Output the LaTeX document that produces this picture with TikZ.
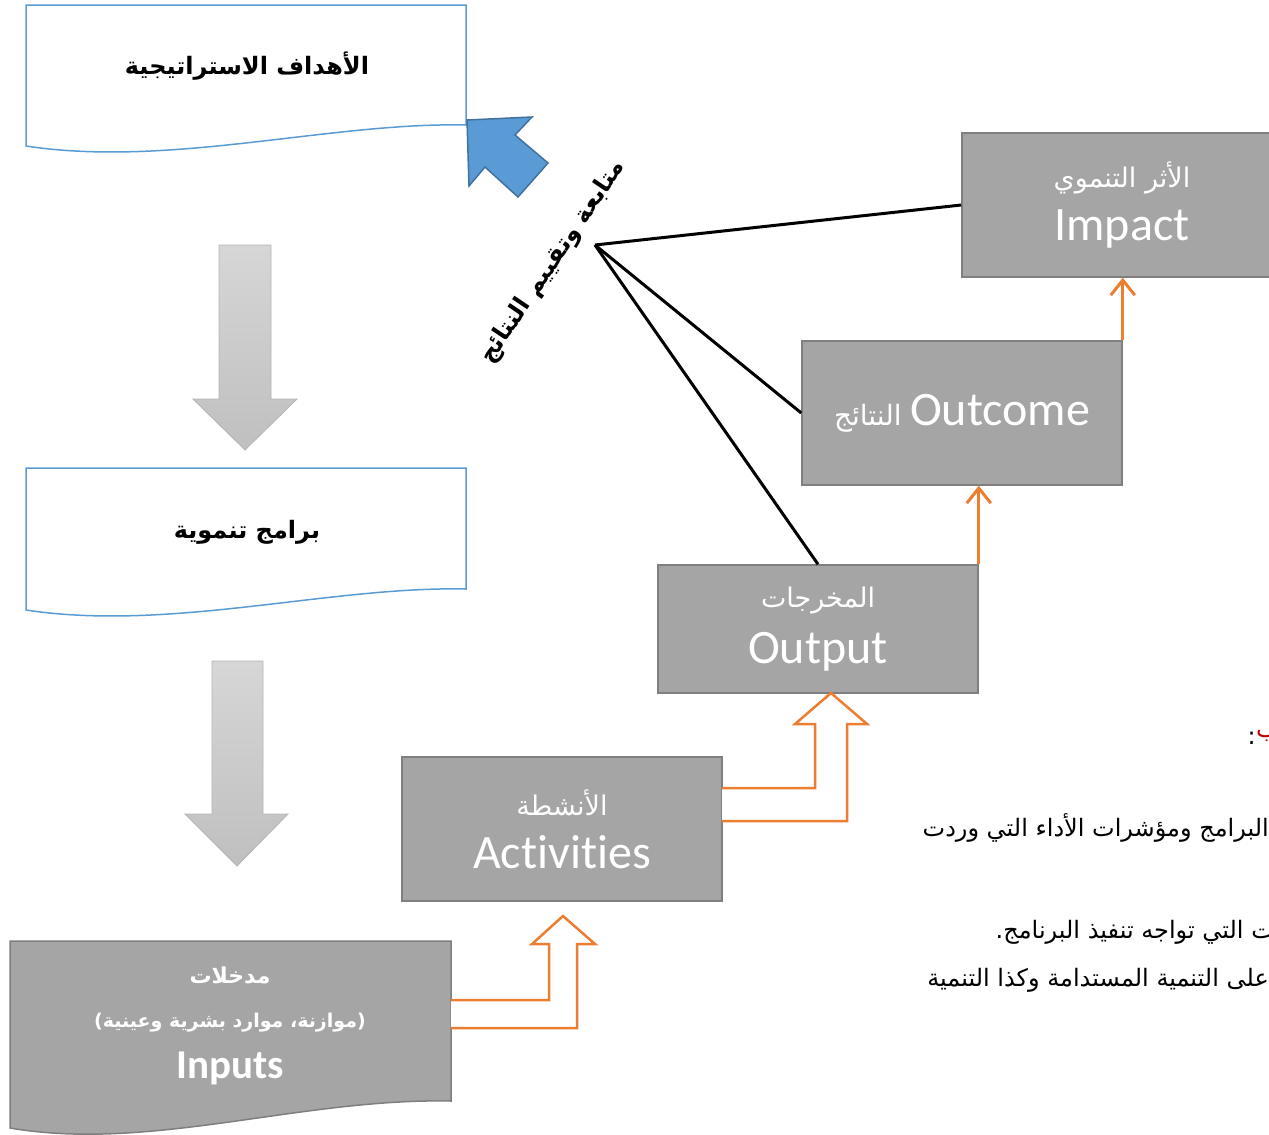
\documentclass[tikz,border=0pt]{standalone}
\usepackage{fontspec}
\usepackage{tikz}
\usetikzlibrary{arrows.meta}
\newfontfamily\arabicfont[Script=Arabic]{DejaVu Sans}
\newfontfamily\latinfont[Ligatures=NoCommon]{Carlito}
\TeXXeTstate=1

\definecolor{boxgray}{HTML}{A5A5A5}
\definecolor{boxedge}{HTML}{7F7F7F}
\definecolor{docblue}{HTML}{5B9BD5}
\definecolor{arrowblue}{HTML}{5B9BD5}
\definecolor{arrowedge}{HTML}{41719C}
\definecolor{flow}{HTML}{ED7D31}
\definecolor{shaftedge}{HTML}{B4B4B4}
\definecolor{notered}{HTML}{C00000}

\newcommand{\artext}[1]{{\arabicfont\beginR #1\endR}}
\newcommand{\fsz}[1]{\fontsize{#1}{#1}\selectfont}

\tikzset{
  stagebox/.style = {fill=boxgray, draw=boxedge, line width=1.5pt, minimum width=320pt, text=white, align=center, inner sep=0pt},
  docline/.style = {draw=docblue, fill=white, line width=1.5pt},
  downarrow/.style = {draw=shaftedge, line width=0.8pt, top color=black!16, bottom color=black!25},
  bentarrow/.style = {draw=flow, fill=white, line width=2.5pt, line join=miter},
  flowline/.style = {draw=flow, line width=3pt, -{Straight Barb[length=15pt,width=24pt]}},
  evalline/.style = {draw=black, line width=3pt}
}

\begin{document}
\begin{tikzpicture}[x=1pt, y=-1pt]
\useasboundingbox ( 0, 0 ) rectangle ( 1269, 1135 );

% Strategic goals
\draw [docline] ( 26, 146 ) -- ( 26, 5 ) -- ( 466, 5 ) -- ( 466, 125 ) .. controls ( 330, 122 ) and ( 170, 168 ) .. ( 26, 146 ) -- cycle;
\node (goals) at ( 247, 66 ) {\fsz{24}\bfseries\artext{الأهداف الاستراتيجية}};

% Down arrows
\draw [downarrow] ( 219, 245 ) -- ( 271, 245 ) -- ( 271, 399 ) -- ( 297, 399 ) -- ( 245, 450 ) -- ( 193, 399 ) -- ( 219, 399 ) -- cycle;
\draw [downarrow] ( 212, 661 ) -- ( 263, 661 ) -- ( 263, 814 ) -- ( 288, 814 ) -- ( 237, 866 ) -- ( 185, 814 ) -- ( 212, 814 ) -- cycle;

% Development programmes
\draw [docline] ( 26, 610 ) -- ( 26, 468 ) -- ( 466, 468 ) -- ( 466, 589 ) .. controls ( 330, 586 ) and ( 170, 632 ) .. ( 26, 610 ) -- cycle;
\node (programs) at ( 247, 532 ) {\fsz{24}\bfseries\artext{برامج تنموية}};

% Inputs
\filldraw [fill=boxgray, draw=boxedge, line width=1.5pt] ( 10, 1128 ) -- ( 10, 941 ) -- ( 451, 941 ) -- ( 451, 1101 ) .. controls ( 300, 1098 ) and ( 150, 1152 ) .. ( 10, 1128 ) -- cycle;
\node [text=white] (inputsar) at ( 230, 975 ) {\fsz{22}\bfseries\artext{مدخلات}};
\node [text=white] (inputsres) at ( 230, 1023 ) {\fsz{19}\bfseries\artext{(موازنة، موارد بشرية وعينية)}};
\node [text=white] (inputs) at ( 230, 1068 ) {\fsz{41}\latinfont\bfseries Inputs};

% Stages
\node [stagebox, minimum height=144pt] (act) at ( 562, 829 ) {\fsz{27}\artext{الأنشطة}\\[19pt]\fsz{48}\latinfont Activities};
\node [stagebox, minimum height=128pt] (out) at ( 818, 629 ) {\fsz{27}\artext{المخرجات}\\[18pt]\fsz{48}\latinfont Output};
\node [stagebox, minimum height=144pt] (outc) at ( 962, 413 ) {\fsz{28}\artext{النتائج} \fsz{48}\latinfont Outcome};

\begin{scope}
\clip ( 0, 0 ) rectangle ( 1269, 1135 );
\node [stagebox, minimum height=144pt] (impact) at ( 1122, 205 ) {\fsz{27}\artext{الأثر التنموي}\\[15pt]\fsz{48}\latinfont Impact};

% Notes at the right edge
\node [anchor=east, inner sep=0pt] (note1) at ( 1256, 738 ) {\fsz{24}\artext{:}};
\node [anchor=west, inner sep=0pt, text=notered] (note1red) at ( 1256, 736 ) {\fsz{24}\artext{ب}};
\node [anchor=east, inner sep=0pt] (note2) at ( 1269, 828 ) {\fsz{24}\artext{البرامج ومؤشرات الأداء التي وردت}};
\node [anchor=east, inner sep=0pt] (note3) at ( 1274, 932 ) {\fsz{24}\artext{ت التي تواجه تنفيذ البرنامج.}};
\node [anchor=east, inner sep=0pt] (note4) at ( 1269, 980 ) {\fsz{24}\artext{على التنمية المستدامة وكذا التنمية}};
\end{scope}

% Bent arrows
\draw [bentarrow] ( 451, 1000 ) -- ( 549, 1000 ) -- ( 549, 944 ) -- ( 532, 944 ) -- ( 563, 916 ) -- ( 595, 944 ) -- ( 577, 944 ) -- ( 577, 1028 ) -- ( 451, 1028 );
\draw [bentarrow] ( 722, 788 ) -- ( 815, 788 ) -- ( 815, 724 ) -- ( 795, 724 ) -- ( 831, 693 ) -- ( 867, 724 ) -- ( 847, 724 ) -- ( 847, 821 ) -- ( 722, 821 );

% Results chain
\draw [flowline] (out.north east) -- (out.north east |- outc.south);
\draw [flowline] (outc.north east) -- (outc.north east |- impact.south);

% Monitoring and evaluation
\coordinate (eval) at ( 595, 245 );
\draw [evalline] (eval) -- (impact.west);
\draw [evalline] (eval) -- (outc.west);
\draw [evalline] (eval) -- (out.north);
\node [rotate=56] (evaltext) at ( 553, 262 ) {\fsz{24}\bfseries\artext{متابعة وتقييم النتائج}};

% Feedback arrow
\filldraw [fill=arrowblue, draw=arrowedge, line width=1.5pt, line join=miter] ( 467, 120 ) -- ( 532, 117 ) -- ( 515, 135 ) -- ( 548, 163 ) -- ( 518, 197 ) -- ( 485, 167 ) -- ( 469, 186 ) -- cycle;

\end{tikzpicture}
\end{document}
